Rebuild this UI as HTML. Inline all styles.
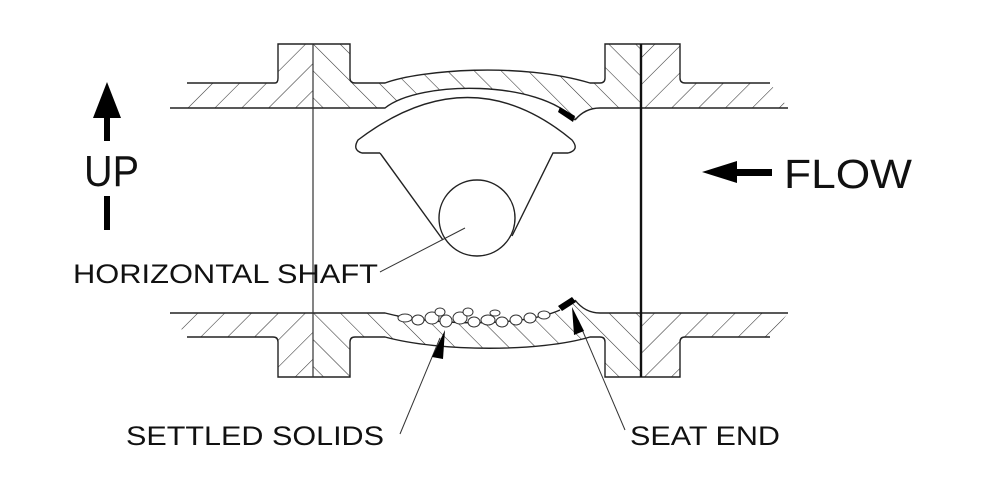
<!DOCTYPE html>
<html><head><meta charset="utf-8"><style>
html,body{margin:0;padding:0;background:#fff;}
svg{display:block;}
text{font-family:"Liberation Sans",sans-serif;fill:#111;}
</style></head><body>
<svg width="1000" height="485" viewBox="0 0 1000 485" xmlns="http://www.w3.org/2000/svg">
<defs>
<pattern id="hA" width="19" height="19" patternUnits="userSpaceOnUse" patternTransform="rotate(45)">
<line x1="0" y1="0" x2="0" y2="19" stroke="#333" stroke-width="1.1"/></pattern>
<pattern id="hB" width="19" height="19" patternUnits="userSpaceOnUse" patternTransform="rotate(-45)">
<line x1="0" y1="0" x2="0" y2="19" stroke="#333" stroke-width="1.1"/></pattern>
<clipPath id="cTop"><path d="M170,108 L187,83 L275,83 Q278,83 278,78 L278,44 L350,44 L350,78 Q350,83 355,83 L385,83 C420,70 520,62 590,83 L600,83 Q605,83 605,78 L605,44 L680,44 L680,78 Q680,83 685,83 L770,83 L788,108 L600,108 Q585,108 575,120 C540,80 420,80 385,108 Z"/></clipPath>
<clipPath id="cBot"><path d="M170,313 L385,313 C430,325 520,328 560,310 L575,300 Q585,313 600,313 L788,313 L770,337 L685,337 Q680,337 680,342 L680,377 L605,377 L605,342 Q605,337 600,337 L590,337 C540,352 440,352 385,337 L355,337 Q350,337 350,342 L350,377 L278,377 L278,342 Q278,337 273,337 L187,337 Z"/></clipPath>
</defs>
<g clip-path="url(#cTop)">
<rect x="160" y="40" width="153" height="80" fill="url(#hA)"/>
<rect x="313" y="40" width="292" height="80" fill="url(#hB)"/>
<rect x="605" y="40" width="37" height="80" fill="url(#hB)"/>
<rect x="642" y="40" width="150" height="80" fill="url(#hA)"/>
</g>
<g clip-path="url(#cBot)">
<rect x="160" y="300" width="153" height="90" fill="url(#hA)"/>
<rect x="313" y="300" width="292" height="90" fill="url(#hB)"/>
<rect x="605" y="300" width="37" height="90" fill="url(#hB)"/>
<rect x="642" y="300" width="150" height="90" fill="url(#hA)"/>
</g>
<g fill="none" stroke="#222" stroke-width="1.4">
<path d="M187,83 L275,83 Q278,83 278,78 L278,44 L350,44 L350,78 Q350,83 355,83 L385,83 C420,70 520,62 590,83 L600,83 Q605,83 605,78 L605,44 L680,44 L680,78 Q680,83 685,83 L770,83"/>
<path d="M170,108 L385,108 C420,80 540,80 575,120"/>
<path d="M575,120 Q585,108 600,108 L788,108" />
<path d="M170,313 L385,313 C430,325 520,328 560,310"/>
<path d="M575,300 Q585,313 600,313 L788,313"/>
<path d="M187,337 L273,337 Q278,337 278,342 L278,377 L350,377 L350,342 Q350,337 355,337 L385,337 C440,352 540,352 590,337 L600,337 Q605,337 605,342 L605,377 L680,377 L680,342 Q680,337 685,337 L770,337"/>
<path d="M380,153 L362,153 Q352,150 358,140 Q470,55 572,140 Q580,150 568,153 L553,153 L512,236"/>
<path d="M380,153 L443,240"/>
<circle cx="477" cy="218" r="38"/>
</g>
<line x1="313" y1="44" x2="313" y2="377" stroke="#333" stroke-width="1.2"/>
<line x1="641" y1="44" x2="641" y2="377" stroke="#111" stroke-width="2.4"/>
<path d="M560,107 L575,116 L573,122 L558,112 Z" fill="#000"/>
<path d="M558,306 L572,297 L576,302 L562,311 Z" fill="#000"/>
<g fill="#fff" stroke="#333" stroke-width="1">
<ellipse cx="405" cy="318" rx="7" ry="4"/><ellipse cx="418" cy="320" rx="6" ry="5"/>
<ellipse cx="432" cy="318" rx="7" ry="6"/><ellipse cx="446" cy="321" rx="6" ry="6"/>
<ellipse cx="460" cy="318" rx="7" ry="6"/><ellipse cx="474" cy="322" rx="6" ry="5"/>
<ellipse cx="488" cy="320" rx="7" ry="5"/><ellipse cx="502" cy="322" rx="6" ry="5"/>
<ellipse cx="516" cy="320" rx="6" ry="5"/><ellipse cx="530" cy="318" rx="6" ry="5"/>
<ellipse cx="544" cy="315" rx="6" ry="4"/><ellipse cx="440" cy="312" rx="5" ry="4"/>
<ellipse cx="468" cy="312" rx="5" ry="4"/><ellipse cx="495" cy="313" rx="5" ry="3"/>
</g>
<g stroke="#333" stroke-width="1" fill="none">
<path d="M380,272 L465,228"/>
<path d="M400,434 L440,338"/>
<path d="M625,430 L578,320"/>
</g>
<path d="M445,330 L432,357 L443,359 Z" fill="#000"/>
<path d="M572,307 L574,335 L584,331 Z" fill="#000"/>
<path d="M107,82 L93,118 L121,118 Z" fill="#000"/>
<rect x="104" y="116" width="6" height="25" fill="#000"/>
<rect x="104" y="196" width="6" height="34" fill="#000"/>
<text x="84" y="186" font-size="44" textLength="55" lengthAdjust="spacingAndGlyphs">UP</text>
<path d="M702,172 L737,161 L737,183 Z" fill="#000"/>
<rect x="735" y="169" width="37" height="7" fill="#000"/>
<text x="784" y="188" font-size="41" textLength="128" lengthAdjust="spacingAndGlyphs">FLOW</text>
<text x="73" y="283" font-size="27" textLength="305" lengthAdjust="spacingAndGlyphs">HORIZONTAL SHAFT</text>
<text x="126" y="445" font-size="27" textLength="258" lengthAdjust="spacingAndGlyphs">SETTLED SOLIDS</text>
<text x="630" y="445" font-size="27" textLength="150" lengthAdjust="spacingAndGlyphs">SEAT END</text>
</svg>
</body></html>
